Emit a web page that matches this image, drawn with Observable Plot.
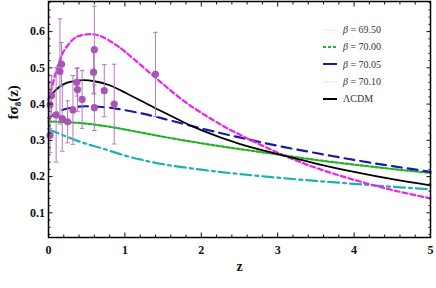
<!DOCTYPE html>
<html><head><meta charset="utf-8">
<script src="https://cdn.jsdelivr.net/npm/d3@7"></script>
<script src="https://cdn.jsdelivr.net/npm/@observablehq/plot@0.6"></script>
<style>
body{margin:0;background:#fff;}
#wrap{position:relative;width:436px;height:288px;}
#legend{position:absolute;left:322px;top:21px;font-family:"Liberation Serif","DejaVu Serif",serif;font-size:10px;color:#333;}
#legend div{height:17.3px;display:flex;align-items:center;}
#legend svg{margin-right:5px;}
svg text{font-family:"Liberation Serif","DejaVu Serif",serif;}
</style>
</head><body>
<div id="wrap"><div id="legend"></div></div>
<script>
// Observations
const obsZ   = [0.02, 0.02, 0.04, 0.10, 0.15, 0.17, 0.18, 0.25, 0.32, 0.37, 0.38, 0.44, 0.59, 0.60, 0.60, 0.73, 0.86, 1.40];
const obsF   = [0.314,0.398,0.423,0.37, 0.49, 0.51, 0.36, 0.351,0.384,0.460,0.44, 0.413,0.488,0.55, 0.390,0.437,0.40, 0.482];
const obsErr = [0.048,0.065,0.055,0.13, 0.145,0.06, 0.09, 0.058,0.095,0.038,0.06, 0.08, 0.06, 0.12, 0.063,0.072,0.11, 0.116];

// Curves
const lcdmZ = [0,0.1,0.2,0.3,0.45,0.6,0.8,1.0,1.25,1.5,1.75,2.0,2.5,3.0,3.5,4.0,4.5,5.0];
const lcdmF = [0.415,0.44,0.455,0.462,0.466,0.463,0.452,0.432,0.405,0.378,0.352,0.328,0.29,0.262,0.236,0.213,0.193,0.176];
const b7010Z = [0,0.05,0.1,0.15,0.2,0.3,0.4,0.55,0.7,0.85,1.0,1.25,1.5,1.75,2.0,2.25,2.5,3.0,3.5,4.0,4.5,5.0];
const b7010F = [0.41,0.45,0.49,0.522,0.546,0.574,0.588,0.593,0.586,0.568,0.545,0.5,0.455,0.412,0.376,0.344,0.316,0.266,0.224,0.191,0.163,0.14];
const b7005Z = [0,0.1,0.2,0.35,0.5,0.7,0.9,1.2,1.5,2.0,2.5,3.0,3.5,4.0,4.5,5.0];
const b7005F = [0.362,0.375,0.385,0.392,0.394,0.392,0.387,0.375,0.36,0.333,0.308,0.285,0.265,0.246,0.229,0.213];
const b7000Z = [0,0.25,0.5,0.75,1.0,1.5,2.0,2.5,3.0,3.5,4.0,4.5,5.0];
const b7000F = [0.352,0.35,0.346,0.339,0.33,0.31,0.292,0.276,0.261,0.246,0.233,0.221,0.21];
const b6950Z = [0,0.1,0.3,0.5,0.7,1.0,1.25,1.5,2.0,2.5,3.0,3.5,4.0,4.5,5.0];
const b6950F = [0.33,0.322,0.305,0.29,0.278,0.258,0.245,0.234,0.219,0.207,0.197,0.188,0.18,0.172,0.165];

const legendLabels = ["β = 69.50","β = 70.00","β = 70.05","β = 70.10","ΛCDM"];

const obs = obsZ.map((z,i)=>({z, f: obsF[i], e: obsErr[i]}));
const mk = (Z,F)=>Z.map((z,i)=>({z, f:F[i]}));

const xMajor = [0,1,2,3,4,5];
const xMinor = d3.range(0,5.001,0.2).filter(v=>Math.abs(v-Math.round(v))>1e-6);
const yMajor = [0.1,0.2,0.3,0.4,0.5,0.6];
const yMinor = d3.range(0.04,0.681,0.02).filter(v=>Math.abs(v*10-Math.round(v*10))>1e-6);

const font = "Liberation Serif, DejaVu Serif, serif";
const purple = "#a855b5";

const chart = Plot.plot({
  width: 436, height: 288,
  marginLeft: 48, marginRight: 6, marginTop: 1, marginBottom: 51,
  style: {fontFamily: font, fontSize: "12px", fontWeight: "bold", color: "#111", background: "#fff"},
  x: {domain: [0,5]},
  y: {domain: [0.032, 0.683]},
  marks: [
    Plot.line(mk(b6950Z,b6950F), {x:"z", y:"f", curve:"natural", stroke:"#1bb1b3", strokeWidth:2.2, strokeDasharray:"11,4,3,4"}),
    Plot.line(mk(b7000Z,b7000F), {x:"z", y:"f", curve:"natural", stroke:"#22b222", strokeWidth:2.2, strokeDasharray:"3,2"}),
    Plot.line(mk(b7005Z,b7005F), {x:"z", y:"f", curve:"natural", stroke:"#1a1aa8", strokeWidth:2.2, strokeDasharray:"10,6"}),
    Plot.line(mk(b7010Z,b7010F), {x:"z", y:"f", curve:"natural", stroke:"#f020f0", strokeWidth:2.2, strokeDasharray:"5,3"}),
    Plot.line(mk(lcdmZ,lcdmF), {x:"z", y:"f", curve:"natural", stroke:"#000", strokeWidth:1.8}),
    Plot.ruleX(obs, {x:"z", y1: d=>d.f-d.e, y2: d=>d.f+d.e, stroke:"#b878c2", strokeWidth:1}),
    Plot.link(obs, {x1: d=>d.z-0.03, x2: d=>d.z+0.03, y1: d=>d.f-d.e, y2: d=>d.f-d.e, stroke:"#b878c2", strokeWidth:1}),
    Plot.link(obs, {x1: d=>d.z-0.03, x2: d=>d.z+0.03, y1: d=>d.f+d.e, y2: d=>d.f+d.e, stroke:"#b878c2", strokeWidth:1}),
    Plot.dot(obs, {x:"z", y:"f", r:3.6, fill:purple, stroke:"none"}),
    Plot.axisX(xMajor, {anchor:"bottom", tickSize:-4.5, tickPadding:12, tickFormat: d=>String(d), label:null, fontWeight:"bold", fontSize:12, fontFamily:font}),
    Plot.axisX(xMinor, {anchor:"bottom", tickSize:-2.5, tickFormat: ()=>"", label:null}),
    Plot.axisX(xMajor, {anchor:"top", tickSize:-4.5, tickFormat: ()=>"", label:null}),
    Plot.axisX(xMinor, {anchor:"top", tickSize:-2.5, tickFormat: ()=>"", label:null}),
    Plot.axisY(yMajor, {anchor:"left", tickSize:-4.5, tickPadding:8, tickFormat: d=>d.toFixed(1), label:null, fontWeight:"bold", fontSize:12, fontFamily:font}),
    Plot.axisY(yMinor, {anchor:"left", tickSize:-2.5, tickFormat: ()=>"", label:null}),
    Plot.axisY(yMajor, {anchor:"right", tickSize:-4.5, tickFormat: ()=>"", label:null}),
    Plot.axisY(yMinor, {anchor:"right", tickSize:-2.5, tickFormat: ()=>"", label:null}),
    Plot.frame({stroke:"#000", strokeWidth:1.5}),
    Plot.text(["z"], {frameAnchor:"bottom", dy:33, text:d=>d, fontSize:14, fontWeight:"bold", fontFamily:font}),
    Plot.text(["fσ₈(z)"], {frameAnchor:"left", dx:-35, rotate:-90, text:d=>d, fontSize:15, fontWeight:"bold", fontFamily:font})
  ]
});
document.getElementById("wrap").prepend(chart);

// Legend (HTML overlay)
const legendStyles = [
  {stroke:"#dceeee", dash:null, w:1.2},
  {stroke:"#22b222", dash:"3,2", w:2},
  {stroke:"#1a1aa8", dash:null, w:2},
  {stroke:"#ffd6ff", dash:null, w:1.2},
  {stroke:"#000", dash:null, w:2}
];
const leg = d3.select("#legend");
legendLabels.forEach((lab,i)=>{
  const row = leg.append("div");
  const s = row.append("svg").attr("width",16).attr("height",6);
  s.append("line").attr("x1",1).attr("x2",15).attr("y1",3).attr("y2",3)
    .attr("stroke",legendStyles[i].stroke).attr("stroke-width",legendStyles[i].w)
    .attr("stroke-dasharray",legendStyles[i].dash);
  const t = row.append("span");
  if (lab.startsWith("β")) { t.append("i").text("β"); t.append("span").text(lab.slice(1)); }
  else t.text(lab);
});
</script>
</body></html>
